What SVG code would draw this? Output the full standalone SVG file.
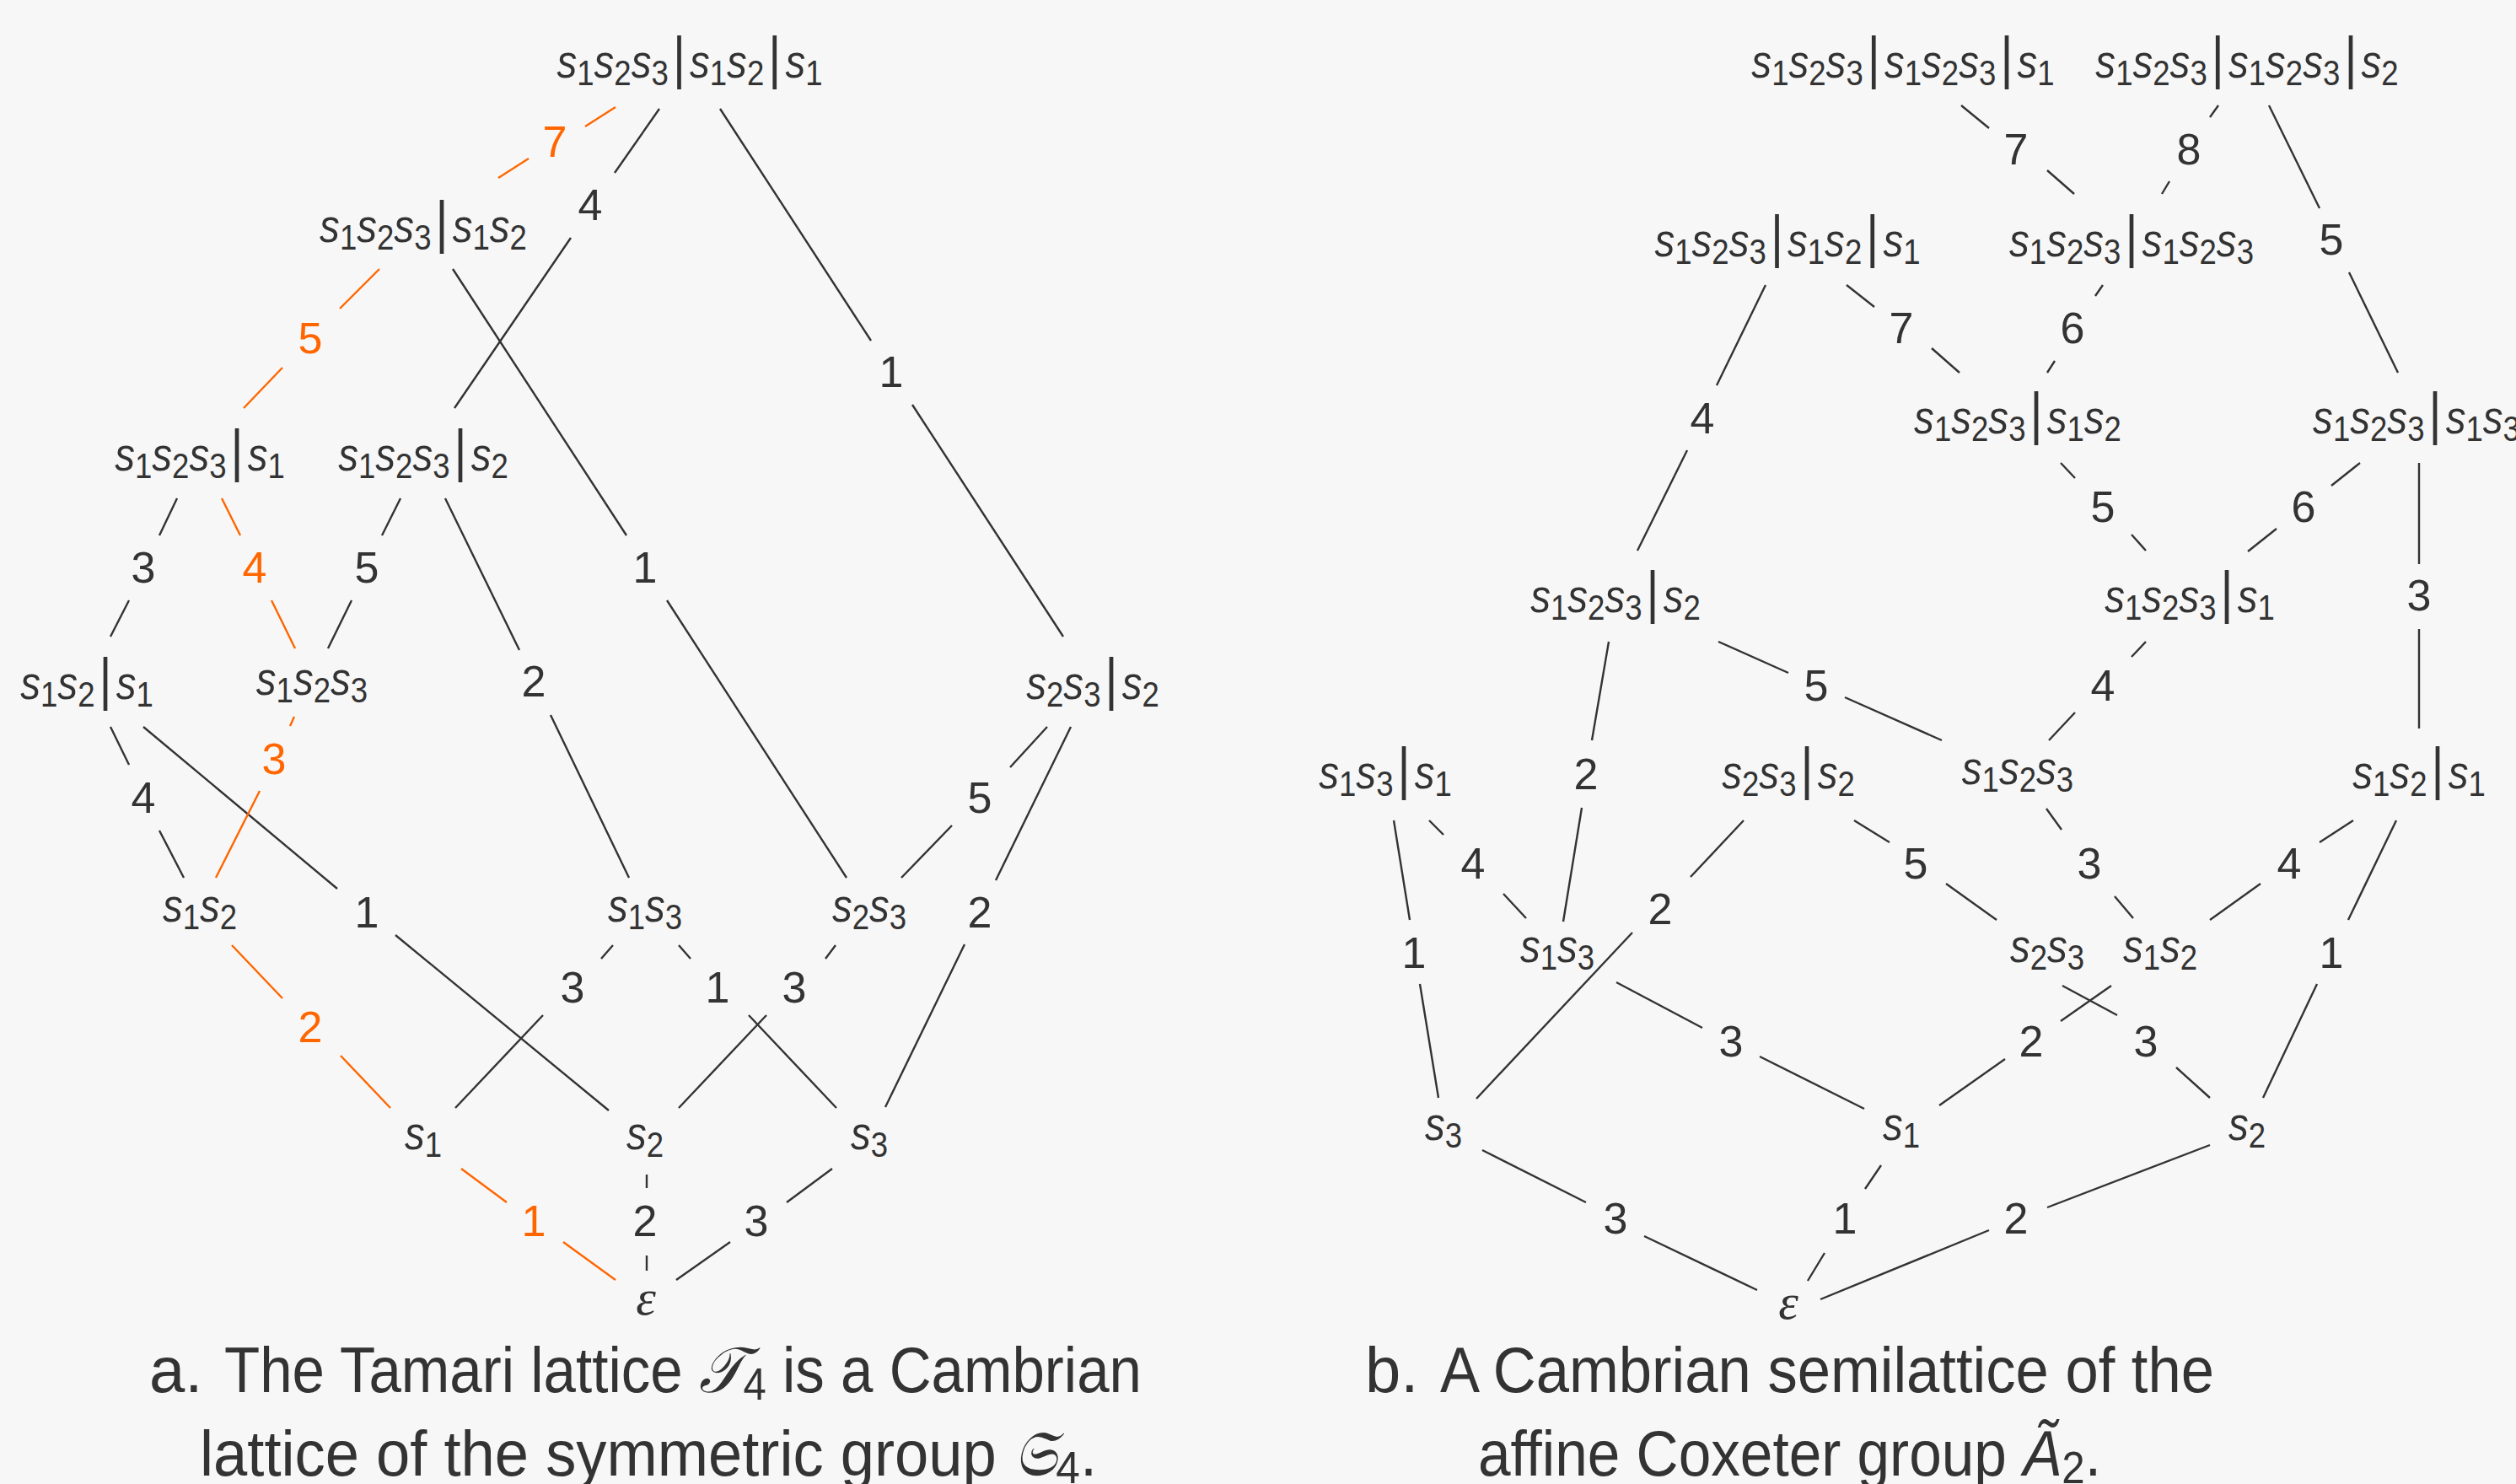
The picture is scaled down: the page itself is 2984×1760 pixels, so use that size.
<svg xmlns="http://www.w3.org/2000/svg" width="2984" height="1760" viewBox="0 0 2984 1760">
<style>
.n{font-family:"Liberation Sans",Arial,sans-serif;fill:#333;text-anchor:middle}
.s{font-style:italic;font-size:56px}
.d{font-size:43px}
.b{font-size:68px}
.eps{font-family:"Liberation Serif","Times New Roman",serif;font-style:italic;font-size:60px;fill:#333;text-anchor:middle}
.e{stroke:#333;stroke-width:2.4;fill:none}
.e.o{stroke:#ff6600}
.l{font-family:"Liberation Sans",Arial,sans-serif;font-size:52px;fill:#333;text-anchor:middle}
.l.o{fill:#ff6600}
.cap{font-family:"Liberation Sans",Arial,sans-serif;font-size:76px;fill:#333}
.sub{font-size:54px}
.math{font-family:"DejaVu Serif","Liberation Serif",serif;font-style:italic}
</style>
<rect width="2984" height="1760" fill="#f7f7f7"/>

<g id="connectors">
<!-- left diagram -->
<g><path class="e o" d="M730,127L694,150M627,188L591,211"/><text class="l o" x="658" y="186">7</text></g>
<g><path class="e" d="M782,129L729,205M677,282L539,484"/><text class="l" x="700" y="261">4</text></g>
<g><path class="e" d="M854,129L1033,404M1082,480L1261,755"/><text class="l" x="1057" y="459">1</text></g>
<g><path class="e o" d="M450,319L403,366M335,436L289,484"/><text class="l o" x="368" y="419">5</text></g>
<g><path class="e" d="M537,319L743,635M791,712L1004,1041"/><text class="l" x="765" y="691">1</text></g>
<g><path class="e" d="M210,591L189,635M153,712L131,755"/><text class="l" x="170" y="691">3</text></g>
<g><path class="e o" d="M263,591L285,635M322,712L350,769"/><text class="l o" x="302" y="691">4</text></g>
<g><path class="e" d="M475,591L453,635M417,712L389,769"/><text class="l" x="435" y="691">5</text></g>
<g><path class="e" d="M528,591L616,771M653,848L746,1041"/><text class="l" x="633" y="826">2</text></g>
<g><path class="e" d="M131,862L153,907M189,985L218,1041"/><text class="l" x="170" y="964">4</text></g>
<g><path class="e" d="M170,862L400,1054M469,1109L722,1317"/><text class="l" x="435" y="1100">1</text></g>
<g><path class="e o" d="M349,850L344,861M308,938L256,1041"/><text class="l o" x="325" y="918">3</text></g>
<g><path class="e" d="M1242,862L1198,910M1129,979L1069,1041"/><text class="l" x="1162" y="964">5</text></g>
<g><path class="e" d="M1270,862L1181,1044M1144,1120L1050,1313"/><text class="l" x="1162" y="1100">2</text></g>
<g><path class="e o" d="M275,1121L335,1184M404,1252L463,1314"/><text class="l o" x="368" y="1236">2</text></g>
<g><path class="e" d="M727,1121L713,1137M644,1204L540,1314"/><text class="l" x="679" y="1189">3</text></g>
<g><path class="e" d="M805,1121L819,1137M888,1204L992,1314"/><text class="l" x="851" y="1189">1</text></g>
<g><path class="e" d="M991,1121L979,1137M909,1204L805,1314"/><text class="l" x="942" y="1189">3</text></g>
<g><path class="e o" d="M547,1386L601,1426M668,1473L730,1518"/><text class="l o" x="633" y="1466">1</text></g>
<g><path class="e" d="M767,1393L767,1409M767,1489L767,1507"/><text class="l" x="765" y="1466">2</text></g>
<g><path class="e" d="M987,1386L933,1426M866,1473L802,1518"/><text class="l" x="897" y="1466">3</text></g>
<!-- right diagram -->
<g><path class="e" d="M2326,125L2359,152M2428,202L2460,230"/><text class="l" x="2391" y="195">7</text></g>
<g><path class="e" d="M2631,125L2621,139M2573,215L2564,230"/><text class="l" x="2596" y="195">8</text></g>
<g><path class="e" d="M2691,125L2751,247M2786,323L2844,442"/><text class="l" x="2765" y="302">5</text></g>
<g><path class="e" d="M2094,338L2036,457M2001,534L1942,653"/><text class="l" x="2019" y="514">4</text></g>
<g><path class="e" d="M2190,338L2223,364M2291,413L2324,442"/><text class="l" x="2255" y="407">7</text></g>
<g><path class="e" d="M2494,338L2485,351M2437,428L2428,442"/><text class="l" x="2458" y="407">6</text></g>
<g><path class="e" d="M2444,549L2461,567M2528,634L2545,653"/><text class="l" x="2494" y="619">5</text></g>
<g><path class="e" d="M2799,549L2765,576M2700,627L2666,654"/><text class="l" x="2732" y="619">6</text></g>
<g><path class="e" d="M2869,549L2869,669M2869,746L2869,864"/><text class="l" x="2869" y="724">3</text></g>
<g><path class="e" d="M2038,761L2121,798M2188,827L2303,878"/><text class="l" x="2154" y="831">5</text></g>
<g><path class="e" d="M2545,761L2528,779M2461,845L2430,878"/><text class="l" x="2494" y="831">4</text></g>
<g><path class="e" d="M1908,761L1888,878M1876,958L1854,1093"/><text class="l" x="1881" y="936">2</text></g>
<g><path class="e" d="M1653,973L1672,1091M1684,1167L1706,1302"/><text class="l" x="1677" y="1148">1</text></g>
<g><path class="e" d="M1695,973L1712,990M1783,1060L1810,1089"/><text class="l" x="1747" y="1042">4</text></g>
<g><path class="e" d="M2068,973L2005,1040M1936,1106L1751,1303"/><text class="l" x="1969" y="1096">2</text></g>
<g><path class="e" d="M2199,973L2241,999M2308,1048L2368,1091"/><text class="l" x="2272" y="1042">5</text></g>
<g><path class="e" d="M2427,959L2445,984M2508,1063L2530,1089"/><text class="l" x="2478" y="1042">3</text></g>
<g><path class="e" d="M2791,973L2751,999M2681,1048L2621,1091"/><text class="l" x="2715" y="1042">4</text></g>
<g><path class="e" d="M2842,973L2785,1091M2748,1167L2684,1302"/><text class="l" x="2765" y="1148">1</text></g>
<g><path class="e" d="M1917,1165L2019,1219M2087,1253L2211,1315"/><text class="l" x="2053" y="1253">3</text></g>
<g><path class="e" d="M2446,1169L2511,1204M2581,1266L2621,1302"/><text class="l" x="2545" y="1253">3</text></g>
<g><path class="e" d="M2504,1169L2444,1211M2378,1256L2300,1311"/><text class="l" x="2409" y="1253">2</text></g>
<g><path class="e" d="M1758,1364L1881,1426M1950,1466L2084,1530"/><text class="l" x="1916" y="1463">3</text></g>
<g><path class="e" d="M2231,1382L2212,1410M2164,1486L2144,1519"/><text class="l" x="2188" y="1463">1</text></g>
<g><path class="e" d="M2621,1358L2428,1432M2359,1459L2159,1541"/><text class="l" x="2391" y="1463">2</text></g>
</g>

<!-- left nodes -->
<g id="a-s1s2s3-s1s2-s1"><text class="n" transform="translate(818,92) scale(0.85,1)"><tspan class="s">s</tspan><tspan class="d" dy="9">1</tspan><tspan class="s" dy="-9">s</tspan><tspan class="d" dy="9">2</tspan><tspan class="s" dy="-9">s</tspan><tspan class="d" dy="9">3</tspan><tspan class="b" dy="-9" dx="6">|</tspan><tspan class="s" dx="6">s</tspan><tspan class="d" dy="9">1</tspan><tspan class="s" dy="-9">s</tspan><tspan class="d" dy="9">2</tspan><tspan class="b" dy="-9" dx="6">|</tspan><tspan class="s" dx="6">s</tspan><tspan class="d" dy="9">1</tspan></text></g>
<g id="a-s1s2s3-s1s2"><text class="n" transform="translate(502,287) scale(0.85,1)"><tspan class="s">s</tspan><tspan class="d" dy="9">1</tspan><tspan class="s" dy="-9">s</tspan><tspan class="d" dy="9">2</tspan><tspan class="s" dy="-9">s</tspan><tspan class="d" dy="9">3</tspan><tspan class="b" dy="-9" dx="6">|</tspan><tspan class="s" dx="6">s</tspan><tspan class="d" dy="9">1</tspan><tspan class="s" dy="-9">s</tspan><tspan class="d" dy="9">2</tspan></text></g>
<g id="a-s1s2s3-s1"><text class="n" transform="translate(237,558) scale(0.85,1)"><tspan class="s">s</tspan><tspan class="d" dy="9">1</tspan><tspan class="s" dy="-9">s</tspan><tspan class="d" dy="9">2</tspan><tspan class="s" dy="-9">s</tspan><tspan class="d" dy="9">3</tspan><tspan class="b" dy="-9" dx="6">|</tspan><tspan class="s" dx="6">s</tspan><tspan class="d" dy="9">1</tspan></text></g>
<g id="a-s1s2s3-s2"><text class="n" transform="translate(502,558) scale(0.85,1)"><tspan class="s">s</tspan><tspan class="d" dy="9">1</tspan><tspan class="s" dy="-9">s</tspan><tspan class="d" dy="9">2</tspan><tspan class="s" dy="-9">s</tspan><tspan class="d" dy="9">3</tspan><tspan class="b" dy="-9" dx="6">|</tspan><tspan class="s" dx="6">s</tspan><tspan class="d" dy="9">2</tspan></text></g>
<g id="a-s1s2-s1"><text class="n" transform="translate(103,829) scale(0.85,1)"><tspan class="s">s</tspan><tspan class="d" dy="9">1</tspan><tspan class="s" dy="-9">s</tspan><tspan class="d" dy="9">2</tspan><tspan class="b" dy="-9" dx="6">|</tspan><tspan class="s" dx="6">s</tspan><tspan class="d" dy="9">1</tspan></text></g>
<g id="a-s1s2s3"><text class="n" transform="translate(370,824) scale(0.85,1)"><tspan class="s">s</tspan><tspan class="d" dy="9">1</tspan><tspan class="s" dy="-9">s</tspan><tspan class="d" dy="9">2</tspan><tspan class="s" dy="-9">s</tspan><tspan class="d" dy="9">3</tspan></text></g>
<g id="a-s2s3-s2"><text class="n" transform="translate(1296,829) scale(0.85,1)"><tspan class="s">s</tspan><tspan class="d" dy="9">2</tspan><tspan class="s" dy="-9">s</tspan><tspan class="d" dy="9">3</tspan><tspan class="b" dy="-9" dx="6">|</tspan><tspan class="s" dx="6">s</tspan><tspan class="d" dy="9">2</tspan></text></g>
<g id="a-s1s2"><text class="n" transform="translate(237,1093) scale(0.85,1)"><tspan class="s">s</tspan><tspan class="d" dy="9">1</tspan><tspan class="s" dy="-9">s</tspan><tspan class="d" dy="9">2</tspan></text></g>
<g id="a-s1s3"><text class="n" transform="translate(765,1093) scale(0.85,1)"><tspan class="s">s</tspan><tspan class="d" dy="9">1</tspan><tspan class="s" dy="-9">s</tspan><tspan class="d" dy="9">3</tspan></text></g>
<g id="a-s2s3"><text class="n" transform="translate(1031,1093) scale(0.85,1)"><tspan class="s">s</tspan><tspan class="d" dy="9">2</tspan><tspan class="s" dy="-9">s</tspan><tspan class="d" dy="9">3</tspan></text></g>
<g id="a-s1"><text class="n" transform="translate(502,1363) scale(0.85,1)"><tspan class="s">s</tspan><tspan class="d" dy="9">1</tspan></text></g>
<g id="a-s2"><text class="n" transform="translate(765,1363) scale(0.85,1)"><tspan class="s">s</tspan><tspan class="d" dy="9">2</tspan></text></g>
<g id="a-s3"><text class="n" transform="translate(1031,1363) scale(0.85,1)"><tspan class="s">s</tspan><tspan class="d" dy="9">3</tspan></text></g>
<g id="a-eps"><text class="eps" x="766" y="1559">ε</text></g>

<!-- right nodes -->
<g id="b-s1s2s3-s1s2s3-s1"><text class="n" transform="translate(2257,92) scale(0.85,1)"><tspan class="s">s</tspan><tspan class="d" dy="9">1</tspan><tspan class="s" dy="-9">s</tspan><tspan class="d" dy="9">2</tspan><tspan class="s" dy="-9">s</tspan><tspan class="d" dy="9">3</tspan><tspan class="b" dy="-9" dx="6">|</tspan><tspan class="s" dx="6">s</tspan><tspan class="d" dy="9">1</tspan><tspan class="s" dy="-9">s</tspan><tspan class="d" dy="9">2</tspan><tspan class="s" dy="-9">s</tspan><tspan class="d" dy="9">3</tspan><tspan class="b" dy="-9" dx="6">|</tspan><tspan class="s" dx="6">s</tspan><tspan class="d" dy="9">1</tspan></text></g>
<g id="b-s1s2s3-s1s2s3-s2"><text class="n" transform="translate(2665,92) scale(0.85,1)"><tspan class="s">s</tspan><tspan class="d" dy="9">1</tspan><tspan class="s" dy="-9">s</tspan><tspan class="d" dy="9">2</tspan><tspan class="s" dy="-9">s</tspan><tspan class="d" dy="9">3</tspan><tspan class="b" dy="-9" dx="6">|</tspan><tspan class="s" dx="6">s</tspan><tspan class="d" dy="9">1</tspan><tspan class="s" dy="-9">s</tspan><tspan class="d" dy="9">2</tspan><tspan class="s" dy="-9">s</tspan><tspan class="d" dy="9">3</tspan><tspan class="b" dy="-9" dx="6">|</tspan><tspan class="s" dx="6">s</tspan><tspan class="d" dy="9">2</tspan></text></g>
<g id="b-s1s2s3-s1s2-s1"><text class="n" transform="translate(2120,304) scale(0.85,1)"><tspan class="s">s</tspan><tspan class="d" dy="9">1</tspan><tspan class="s" dy="-9">s</tspan><tspan class="d" dy="9">2</tspan><tspan class="s" dy="-9">s</tspan><tspan class="d" dy="9">3</tspan><tspan class="b" dy="-9" dx="6">|</tspan><tspan class="s" dx="6">s</tspan><tspan class="d" dy="9">1</tspan><tspan class="s" dy="-9">s</tspan><tspan class="d" dy="9">2</tspan><tspan class="b" dy="-9" dx="6">|</tspan><tspan class="s" dx="6">s</tspan><tspan class="d" dy="9">1</tspan></text></g>
<g id="b-s1s2s3-s1s2s3"><text class="n" transform="translate(2528,304) scale(0.85,1)"><tspan class="s">s</tspan><tspan class="d" dy="9">1</tspan><tspan class="s" dy="-9">s</tspan><tspan class="d" dy="9">2</tspan><tspan class="s" dy="-9">s</tspan><tspan class="d" dy="9">3</tspan><tspan class="b" dy="-9" dx="6">|</tspan><tspan class="s" dx="6">s</tspan><tspan class="d" dy="9">1</tspan><tspan class="s" dy="-9">s</tspan><tspan class="d" dy="9">2</tspan><tspan class="s" dy="-9">s</tspan><tspan class="d" dy="9">3</tspan></text></g>
<g id="b-s1s2s3-s1s2"><text class="n" transform="translate(2393,514) scale(0.85,1)"><tspan class="s">s</tspan><tspan class="d" dy="9">1</tspan><tspan class="s" dy="-9">s</tspan><tspan class="d" dy="9">2</tspan><tspan class="s" dy="-9">s</tspan><tspan class="d" dy="9">3</tspan><tspan class="b" dy="-9" dx="6">|</tspan><tspan class="s" dx="6">s</tspan><tspan class="d" dy="9">1</tspan><tspan class="s" dy="-9">s</tspan><tspan class="d" dy="9">2</tspan></text></g>
<g id="b-s1s2s3-s1s3"><text class="n" transform="translate(2866,514) scale(0.85,1)"><tspan class="s">s</tspan><tspan class="d" dy="9">1</tspan><tspan class="s" dy="-9">s</tspan><tspan class="d" dy="9">2</tspan><tspan class="s" dy="-9">s</tspan><tspan class="d" dy="9">3</tspan><tspan class="b" dy="-9" dx="6">|</tspan><tspan class="s" dx="6">s</tspan><tspan class="d" dy="9">1</tspan><tspan class="s" dy="-9">s</tspan><tspan class="d" dy="9">3</tspan></text></g>
<g id="b-s1s2s3-s2"><text class="n" transform="translate(1916,726) scale(0.85,1)"><tspan class="s">s</tspan><tspan class="d" dy="9">1</tspan><tspan class="s" dy="-9">s</tspan><tspan class="d" dy="9">2</tspan><tspan class="s" dy="-9">s</tspan><tspan class="d" dy="9">3</tspan><tspan class="b" dy="-9" dx="6">|</tspan><tspan class="s" dx="6">s</tspan><tspan class="d" dy="9">2</tspan></text></g>
<g id="b-s1s2s3-s1"><text class="n" transform="translate(2597,726) scale(0.85,1)"><tspan class="s">s</tspan><tspan class="d" dy="9">1</tspan><tspan class="s" dy="-9">s</tspan><tspan class="d" dy="9">2</tspan><tspan class="s" dy="-9">s</tspan><tspan class="d" dy="9">3</tspan><tspan class="b" dy="-9" dx="6">|</tspan><tspan class="s" dx="6">s</tspan><tspan class="d" dy="9">1</tspan></text></g>
<g id="b-s1s2s3"><text class="n" transform="translate(2393,930) scale(0.85,1)"><tspan class="s">s</tspan><tspan class="d" dy="9">1</tspan><tspan class="s" dy="-9">s</tspan><tspan class="d" dy="9">2</tspan><tspan class="s" dy="-9">s</tspan><tspan class="d" dy="9">3</tspan></text></g>
<g id="b-s1s3-s1"><text class="n" transform="translate(1643,935) scale(0.85,1)"><tspan class="s">s</tspan><tspan class="d" dy="9">1</tspan><tspan class="s" dy="-9">s</tspan><tspan class="d" dy="9">3</tspan><tspan class="b" dy="-9" dx="6">|</tspan><tspan class="s" dx="6">s</tspan><tspan class="d" dy="9">1</tspan></text></g>
<g id="b-s2s3-s2"><text class="n" transform="translate(2121,935) scale(0.85,1)"><tspan class="s">s</tspan><tspan class="d" dy="9">2</tspan><tspan class="s" dy="-9">s</tspan><tspan class="d" dy="9">3</tspan><tspan class="b" dy="-9" dx="6">|</tspan><tspan class="s" dx="6">s</tspan><tspan class="d" dy="9">2</tspan></text></g>
<g id="b-s1s2-s1"><text class="n" transform="translate(2869,935) scale(0.85,1)"><tspan class="s">s</tspan><tspan class="d" dy="9">1</tspan><tspan class="s" dy="-9">s</tspan><tspan class="d" dy="9">2</tspan><tspan class="b" dy="-9" dx="6">|</tspan><tspan class="s" dx="6">s</tspan><tspan class="d" dy="9">1</tspan></text></g>
<g id="b-s1s3"><text class="n" transform="translate(1847,1141) scale(0.85,1)"><tspan class="s">s</tspan><tspan class="d" dy="9">1</tspan><tspan class="s" dy="-9">s</tspan><tspan class="d" dy="9">3</tspan></text></g>
<g id="b-s2s3"><text class="n" transform="translate(2428,1141) scale(0.85,1)"><tspan class="s">s</tspan><tspan class="d" dy="9">2</tspan><tspan class="s" dy="-9">s</tspan><tspan class="d" dy="9">3</tspan></text></g>
<g id="b-s1s2"><text class="n" transform="translate(2562,1141) scale(0.85,1)"><tspan class="s">s</tspan><tspan class="d" dy="9">1</tspan><tspan class="s" dy="-9">s</tspan><tspan class="d" dy="9">2</tspan></text></g>
<g id="b-s3"><text class="n" transform="translate(1712,1352) scale(0.85,1)"><tspan class="s">s</tspan><tspan class="d" dy="9">3</tspan></text></g>
<g id="b-s1"><text class="n" transform="translate(2255,1352) scale(0.85,1)"><tspan class="s">s</tspan><tspan class="d" dy="9">1</tspan></text></g>
<g id="b-s2"><text class="n" transform="translate(2665,1352) scale(0.85,1)"><tspan class="s">s</tspan><tspan class="d" dy="9">2</tspan></text></g>
<g id="b-eps"><text class="eps" x="2121" y="1564">ε</text></g>

<!-- captions -->
<g id="caption-a">
<text class="cap" x="177" y="1651">a.</text>
<text class="cap" x="266" y="1651" textLength="1088" lengthAdjust="spacingAndGlyphs">The Tamari lattice <tspan class="math">𝒯</tspan><tspan class="sub" dy="9">4</tspan><tspan dy="-9"> is a Cambrian</tspan></text>
<text class="cap" x="237" y="1750" textLength="1064" lengthAdjust="spacingAndGlyphs">lattice of the symmetric group <tspan class="math">𝔖</tspan><tspan class="sub" dy="9">4</tspan><tspan dy="-9">.</tspan></text>
</g>
<g id="caption-b">
<text class="cap" x="1619" y="1651">b.</text>
<text class="cap" x="1708" y="1651" textLength="918" lengthAdjust="spacingAndGlyphs">A Cambrian semilattice of the</text>
<text class="cap" x="1753" y="1750" textLength="739" lengthAdjust="spacingAndGlyphs">affine Coxeter group <tspan font-style="italic">Ã</tspan><tspan class="sub" dy="9">2</tspan><tspan dy="-9">.</tspan></text>
</g>
</svg>
